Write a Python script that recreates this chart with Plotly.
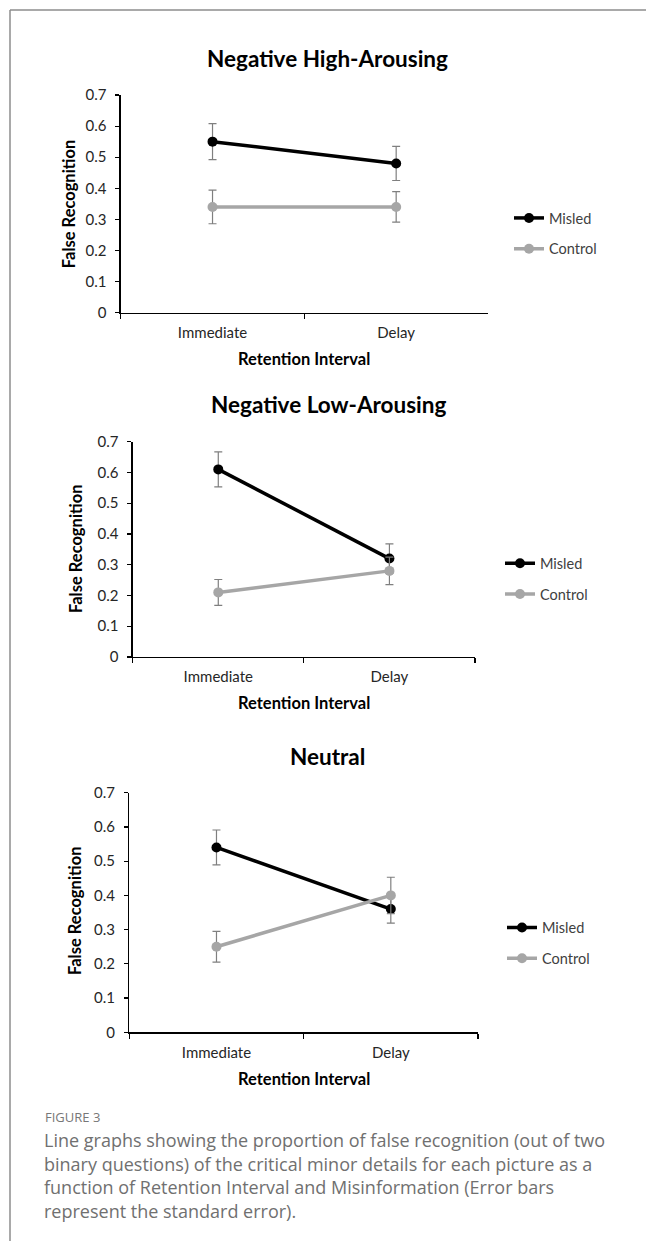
import plotly.graph_objects as go

# ---------------- data ----------------
categories = ["Immediate", "Delay"]
panel_titles = ["Negative High-Arousing", "Negative Low-Arousing", "Neutral"]
series_names = ["Misled", "Control"]

misled_high = [0.55, 0.48]
misled_high_err = [0.058, 0.055]
control_high = [0.34, 0.34]
control_high_err = [0.054, 0.049]

misled_low = [0.61, 0.32]
misled_low_err = [0.057, 0.048]
control_low = [0.21, 0.28]
control_low_err = [0.042, 0.045]

misled_neutral = [0.54, 0.36]
misled_neutral_err = [0.051, 0.041]
control_neutral = [0.25, 0.40]
control_neutral_err = [0.045, 0.053]

y_ticks = [0, 0.1, 0.2, 0.3, 0.4, 0.5, 0.6, 0.7]
y_tick_labels = ["0", "0.1", "0.2", "0.3", "0.4", "0.5", "0.6", "0.7"]
x_title = "Retention Interval"
y_title = "False Recognition"
fig_label = "FIGURE 3"
caption_lines = [
    "Line graphs showing the proportion of false recognition (out of two",
    "binary questions) of the critical minor details for each picture as a",
    "function of Retention Interval and Misinformation (Error bars",
    "represent the standard error).",
]

# ---------------- layout helpers ----------------
W, H = 646, 1241
def fx(px):
    return px / W
def fy(py):
    return 1 - py / H

FONT = "Lato"
CAP_FONT = "Open Sans"
BLACK = "#000000"
GRAY = "#A6A6A6"
ERR = "#7F7F7F"

panels_px = [
    (120.7, 488.0, 95.0, 312.7),
    (132.7, 475.0, 441.7, 657.0),
    (129.3, 478.0, 792.7, 1032.3),
]
data_sets = [
    (misled_high, misled_high_err, control_high, control_high_err),
    (misled_low, misled_low_err, control_low, control_low_err),
    (misled_neutral, misled_neutral_err, control_neutral, control_neutral_err),
]
title_pos = [(327.5, 59), (328.3, 405), (327.5, 756.7)]
ytitle_pos = [(69.3, 203.9), (76.7, 549.3), (75.0, 911.0)]
xtitle_pos = [(304.3, 359.3), (303.9, 703.3), (303.7, 1078.8)]
legend_pos = [(509.0, 233.5), (500.0, 578.8), (502.0, 943.0)]

fig = go.Figure()
legend_names = ["legend", "legend2", "legend3"]

for i, (m, me, c, ce) in enumerate(data_sets):
    k = "" if i == 0 else str(i + 1)
    fig.add_trace(go.Scatter(
        x=categories, y=m, name=series_names[0], mode="lines+markers",
        line=dict(color=BLACK, width=3.5),
        marker=dict(color=BLACK, size=10),
        error_y=dict(type="data", array=me, color=ERR, thickness=1.2, width=4),
        xaxis="x" + k, yaxis="y" + k, legend=legend_names[i],
        legendgroup=f"m{i}", hoverinfo="skip",
    ))
    fig.add_trace(go.Scatter(
        x=categories, y=c, name=series_names[1], mode="lines+markers",
        line=dict(color=GRAY, width=3.5),
        marker=dict(color=GRAY, size=10),
        error_y=dict(type="data", array=ce, color=ERR, thickness=1.2, width=4),
        xaxis="x" + k, yaxis="y" + k, legend=legend_names[i],
        legendgroup=f"c{i}", hoverinfo="skip",
    ))

layout = dict(
    width=W, height=H,
    margin=dict(l=0, r=0, t=0, b=0, autoexpand=False),
    paper_bgcolor="white", plot_bgcolor="white",
    showlegend=True,
    font=dict(family=FONT, color="#262626"),
)

annotations = []
for i, (xl, xr, yt, yb) in enumerate(panels_px):
    k = "" if i == 0 else str(i + 1)
    layout["xaxis" + k] = dict(
        domain=[fx(xl), fx(xr)], anchor="y" + k,
        type="category", categoryorder="array", categoryarray=categories,
        range=[-0.5, 1.5], tickson="boundaries",
        ticks="outside", ticklen=5, tickwidth=1.2, tickcolor=BLACK,
        showline=True, linecolor=BLACK, linewidth=1.3,
        showgrid=False, zeroline=False, ticklabelstandoff=6, automargin=False,
        tickfont=dict(family=FONT, size=15, color="#262626"),
        fixedrange=True,
    )
    layout["yaxis" + k] = dict(
        domain=[fy(yb), fy(yt)], anchor="x" + k,
        range=[0, 0.7], tickvals=y_ticks, ticktext=y_tick_labels,
        ticks="outside", ticklen=4, tickwidth=1.2, tickcolor=BLACK,
        showline=True, linecolor=BLACK, linewidth=1.3,
        showgrid=False, zeroline=False, ticklabelstandoff=6, automargin=False,
        tickfont=dict(family=FONT, size=15, color="#262626"),
        fixedrange=True,
    )
    tx, ty = title_pos[i]
    annotations.append(dict(
        text=f"<b>{panel_titles[i]}</b>", x=fx(tx), y=fy(ty), xref="paper", yref="paper",
        xanchor="center", yanchor="middle", showarrow=False,
        font=dict(family=FONT, size=22.5, color=BLACK),
    ))
    ax, ay = ytitle_pos[i]
    annotations.append(dict(
        text=f"<b>{y_title}</b>", x=fx(ax), y=fy(ay), xref="paper", yref="paper",
        xanchor="center", yanchor="middle", showarrow=False, textangle=-90,
        font=dict(family=FONT, size=16.5, color=BLACK),
    ))
    bx, by = xtitle_pos[i]
    annotations.append(dict(
        text=f"<b>{x_title}</b>", x=fx(bx), y=fy(by), xref="paper", yref="paper",
        xanchor="center", yanchor="middle", showarrow=False,
        font=dict(family=FONT, size=16.5, color=BLACK),
    ))
    lx, ly = legend_pos[i]
    layout[legend_names[i]] = dict(
        x=fx(lx), y=fy(ly), xanchor="left", yanchor="middle",
        bgcolor="rgba(0,0,0,0)", borderwidth=0,
        font=dict(family=FONT, size=14.5, color="#404040"),
        tracegroupgap=9, itemwidth=30, itemclick=False, itemdoubleclick=False,
    )

annotations.append(dict(
    text=fig_label, x=fx(43), y=fy(1117), xref="paper", yref="paper",
    xanchor="left", yanchor="middle", showarrow=False,
    font=dict(family=CAP_FONT, size=13, color="#777777"),
))
for j, line in enumerate(caption_lines):
    annotations.append(dict(
        text=line, x=fx(42), y=fy(1140 + 23.5 * j), xref="paper", yref="paper",
        xanchor="left", yanchor="middle", showarrow=False,
        font=dict(family=CAP_FONT, size=18, color="#707070"),
    ))

layout["annotations"] = annotations
layout["shapes"] = [
    dict(type="line", xref="paper", yref="paper", x0=fx(10), x1=1, y0=fy(10), y1=fy(10),
         line=dict(color="#8C8C8C", width=1.5)),
    dict(type="line", xref="paper", yref="paper", x0=fx(10), x1=fx(10), y0=fy(10), y1=0,
         line=dict(color="#8C8C8C", width=1.5)),
]
fig.update_layout(**layout)
fig.write_html(
    "out.html",
    config={"displayModeBar": False, "staticPlot": True},
    post_script="document.body.style.margin='0';document.body.style.overflow='hidden';",
)
